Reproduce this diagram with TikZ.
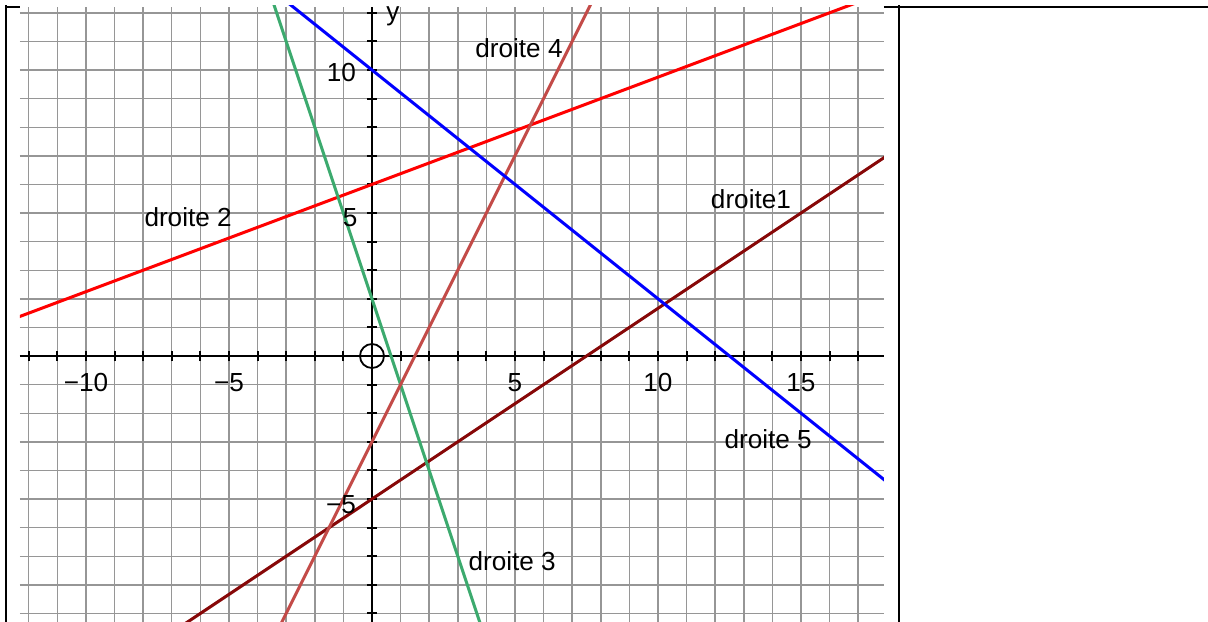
\documentclass[tikz,border=0pt]{standalone}
\usepackage{fontspec}
\setmainfont{Liberation Sans}
\usepackage{xcolor}
\usepackage{tikz}
\usetikzlibrary{positioning}
\definecolor{gridgray}{RGB}{150, 150, 150}
\definecolor{droiteone}{RGB}{135, 8, 8}
\definecolor{droitetwo}{RGB}{255, 0, 0}
\definecolor{droitethree}{RGB}{60, 170, 110}
\definecolor{droitefour}{RGB}{195, 75, 72}
\definecolor{droitefive}{RGB}{0, 0, 255}

\begin{document}
\begin{tikzpicture}[
    x=0.5cm, y=0.5cm,
    gridline/.style={draw=gridgray, line width=0.7pt},
    axis/.style={draw=black, line width=1pt},
    droite/.style={line width=1.5pt},
    droitelabel/.style={font=\fontsize{13}{15}\selectfont, inner sep=0pt},
    ticklabel/.style={font=\fontsize{13}{15}\selectfont, inner sep=0pt},
    border/.style={draw=black, line width=1pt}
]
    \useasboundingbox (-13.007,-9.266) rectangle (29.231,12.448);

    % ==================== TABLE BORDERS ====================
    \draw[border] (-12.8,12.22) -- (-12.31,12.22);
    \draw[border] (17.9,12.22) -- (29.231,12.22);
    \draw[border] (-12.8,12.27) -- (-12.8,-9.3);
    \draw[border] (18.43,12.27) -- (18.43,-9.3);

    % ==================== GRID ====================
    \foreach \i in {-12,...,17}
        \draw[gridline] (\i,-9.3) -- (\i,12.2);
    \foreach \j in {-9,...,12}
        \draw[gridline] (-12.31,\j) -- (17.9,\j);

    % ==================== AXES ====================
    \draw[axis] (-12.31,0) -- (17.9,0);
    \draw[axis] (0,-9.3) -- (0,12.2);
    \foreach \i in {-12,...,17}
        \draw[axis] (\i,-0.18) -- (\i,0.18);
    \foreach \j in {-9,...,12}
        \draw[axis] (-0.18,\j) -- (0.18,\j);
    \node[draw=black, line width=0.9pt, circle, minimum size=0.42cm,
          inner sep=0pt] (origin) at (0,0) {};
    \node[ticklabel, anchor=base] (ylab) at (0.73,11.74) {y};

    % ==================== DROITES ====================
    \begin{scope}
        \clip (-12.31,-9.3) rectangle (17.9,12.25);
        \draw[droite, droiteone] (-7,-9.667) -- (18,7);
        \draw[droite, droitetwo] (-13,1.125) -- (18,12.75);
        \draw[droite, droitethree] (-4,14) -- (4,-10);
        \draw[droite, droitefour] (-4,-11) -- (8,13);
        \draw[droite, droitefive] (-4,13.2) -- (18,-4.4);
    \end{scope}

    % ==================== TICK LABELS ====================
    \node[ticklabel] (xm10) at (-10,-0.93) {−10};
    \node[ticklabel] (xm5) at (-5,-0.93) {−5};
    \node[ticklabel] (x5) at (5,-0.93) {5};
    \node[ticklabel] (x10) at (10,-0.93) {10};
    \node[ticklabel] (x15) at (15,-0.93) {15};
    \node[ticklabel, anchor=east] (y10) at (-0.55,9.91) {10};
    \node[ticklabel, anchor=east] (y5) at (-0.5,4.84) {5};
    \node[ticklabel, anchor=east] (ym5) at (-0.55,-5.2) {−5};

    % ==================== LABELS ====================
    \node[droitelabel] (lab1) at (13.25,5.49) {droite1};
    \node[droitelabel] (lab2) at (-6.43,4.84) {droite 2};
    \node[droitelabel] (lab3) at (4.9,-7.17) {droite 3};
    \node[droitelabel] (lab4) at (5.14,10.77) {droite 4};
    \node[droitelabel] (lab5) at (13.85,-2.90) {droite 5};
\end{tikzpicture}
\end{document}
